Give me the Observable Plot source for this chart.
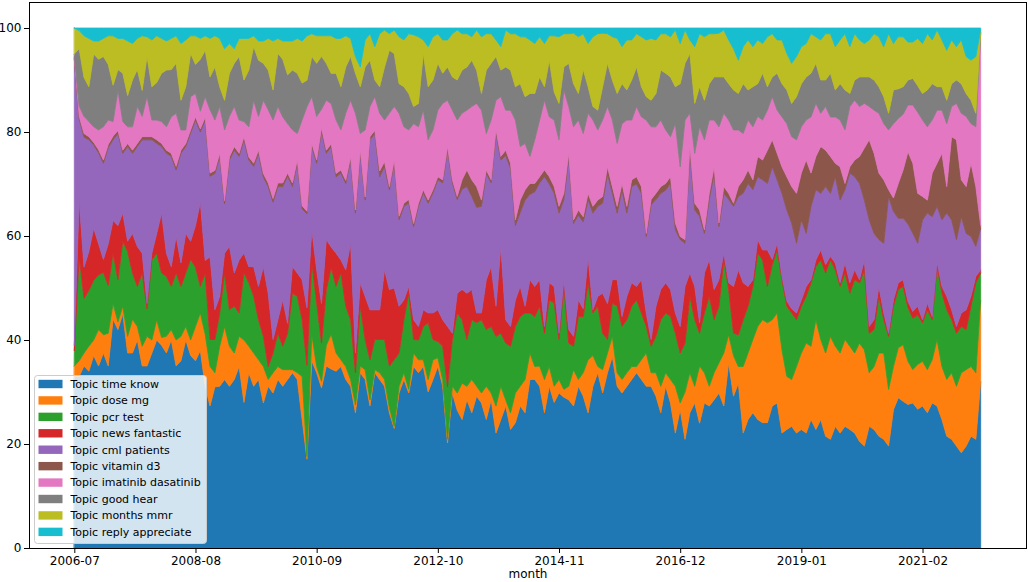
<!DOCTYPE html>
<html>
<head>
<meta charset="utf-8">
<script src="https://cdn.jsdelivr.net/npm/d3@7"></script>
<script src="https://cdn.jsdelivr.net/npm/@observablehq/plot@0.6"></script>
<style>
  html, body { margin: 0; padding: 0; background: white; }
  svg { display: block; }
</style>
</head>
<body>
<div id="chart"></div>
<script>
// ---- categories ----
const topics = [
  "Topic time know", "Topic dose mg", "Topic pcr test", "Topic news fantastic",
  "Topic cml patients", "Topic vitamin d3", "Topic imatinib dasatinib",
  "Topic good hear", "Topic months mmr", "Topic reply appreciate"
];
const colors = ["#1f77b4", "#ff7f0e", "#2ca02c", "#d62728", "#9467bd",
                "#8c564b", "#e377c2", "#7f7f7f", "#bcbd22", "#17becf"];
// months 2006-07 .. 2022-02
const months = d3.utcMonths(new Date(Date.UTC(2006, 6, 1)), new Date(Date.UTC(2022, 2, 1)));
const tickLabels = ["2006-07", "2008-08", "2010-09", "2012-10", "2014-11", "2016-12", "2019-01", "2021-02"];

// ---- series values (share of posts, %) ----
const timeKnow = [
33,33,35,34,37,35,37.5,35,44,42,
45,37.5,37.5,40,35,35,37.5,40,39,37.5,
40,35,36,40,37,36,38,31,27.3,31,
31.1,32.4,31.1,32.4,34.9,28,33.7,31.1,32.4,27.9,
31.1,29.8,32.4,31.1,32.4,33.7,32.4,24.7,17,36,
33.7,31.1,35,34.3,34,34.9,32.4,31.1,26,33.7,
32.4,27.3,33.7,32.4,31.1,26,23,29.8,32.4,29.8,
34.9,33.7,34.9,30,32.4,34.9,31.1,20.2,29.8,26.5,
24.7,28.5,26,29.2,27.9,24.7,28.5,22.1,24.7,27.3,
22.8,24.1,27.3,26,32.4,32.4,31.1,26,31.1,28,
29.8,29,28.5,27.3,31.1,29.2,26,31.1,33.7,29.8,
33.7,36.8,31.1,29.8,31.1,32.4,33.7,32.4,31.1,31.1,
29.2,26,31.1,27.9,22.1,26.6,20.9,26,27.9,24,
27.9,27.3,28.5,29.8,27.3,35.6,29.2,31.7,22.1,24.7,
26,24.7,24.1,24.1,27.3,27.9,22.1,22.8,23.4,22.1,
22.8,22.1,24.7,22.8,24.7,21.5,20.9,23.4,22.1,23.4,
22.8,22.1,20.5,19.6,23.4,22.8,21.5,20.9,19.6,26.6,
28.9,28.2,27.6,27.9,26.7,27.3,26,27.9,27.3,24.7,
21.5,20.9,19.6,18.3,19.6,21.5,20.9,32
];
const doseMg = [
2,3,2.5,4.8,3,7,3.5,6.3,3,1.5,
1.5,3.2,6.5,2.6,3.8,5.7,2.5,3.9,1.5,3.2,
2,5,4.7,2.6,3,6.6,7.2,10,7.6,2.7,
7.7,10.2,7.7,5.1,5.8,12,5.1,6.4,3.8,7,
1.3,3.9,2.5,3.2,1.9,0.6,1.3,8.3,0.5,5,
1.2,1.3,4,6.7,3.5,1.3,2.5,1.3,1.5,1.3,
1.9,1.2,0.6,1.3,1.3,1,0.4,1.3,1.3,0.7,
2.6,2.5,1.3,2.4,3.8,1.7,1.3,0.7,1.3,3.3,
7,2.6,6.4,1.9,1.9,6.4,1.3,5.2,6.4,1.2,
3.2,5.7,3.8,6.4,5.1,2.5,3.9,6.4,3.8,3.1,
2.6,1.5,2.6,7,1.3,4.5,10.2,5.9,1.2,4.5,
3.8,3.9,2.6,2.6,2.6,2.5,1.2,3.8,6.4,2.6,
4.5,5.1,2.6,4.5,9,1.3,9.1,7.7,3.2,11,
5.8,3.8,5.2,5.8,10.2,5.4,7.8,3.2,12.8,12.8,
14.1,17.9,19.8,19.2,16.6,17.3,16,10.2,9,12.8,
14.7,17.3,14.1,21.1,15.4,16,19.8,15.4,15.4,16.7,
16,15.4,18.9,18.5,10.3,12.1,16,16.6,10.9,8.3,
9.6,10.9,8.3,6.4,8.6,8.6,8.3,8.3,12.8,10.2,
10.9,12.8,11.5,15.4,14.7,13.4,12.8,15.7
];
const pcrTest = [
3,20,10.5,10.7,11.5,10.5,12,9.2,9.7,8.1,
12.5,16.3,8.9,7.7,14.1,5.3,15.4,12.8,12.4,11.5,
8.3,12.9,9.6,10.3,15.5,11.4,5.1,11.6,5.2,6.4,
6.4,10.3,7,9,4.5,12.9,12.2,10.9,7.7,5.8,
2.5,3.8,6.4,4.5,7,14.7,14.7,10.9,17.5,13.8,
12.2,7.4,10.7,12.8,12.8,16.7,11.6,11.5,6.2,11.5,
5.8,7.7,5.8,6.4,7.7,8,12.8,6.4,10.2,18.5,
2.6,3.8,6.4,10.9,3.9,3.1,6.4,10.1,9,15.4,
12.2,9,11.5,12.2,14.1,10.9,12.8,13.4,10.2,10.9,
12.8,12.8,13.4,12.8,7.7,9.6,11.5,8.9,12.8,16,
7.7,19.8,8.3,4.5,12.1,10.8,14.8,8.2,11.6,7,
2.6,6.4,12.8,10.2,10.2,11.6,12.8,9,5.1,5.1,
7,12.8,11.5,12.1,10.2,9.6,9.4,14.7,12.8,6.3,
11.5,17.3,10.2,10.9,17.9,8.7,4.3,6.1,9,9,
10.2,14.1,11.5,7,10.6,12.1,13.5,13.5,12.8,9,
9,9,12.2,10.2,15.3,15.4,14.7,14.7,12.8,12.8,
10.2,14.1,11.6,15.4,7.6,7.1,10.9,6.4,10.2,11.6,
11.2,11.2,10.3,9.9,9.5,7.4,11.5,7.7,14,14.1,
13.4,10.2,10.2,8.9,7.7,11.6,17.3,5.2
];
const newsFantastic = [
1,11,6,7.5,10,6,2.5,8,6.3,10.4,
5.4,2,7.6,7.7,3.8,1,1.3,3.8,11.5,4.5,
3.8,7,4.5,7.6,3.5,8,16.2,2.5,15.9,5.7,
3.2,3.8,12.2,6.4,10.2,3.8,3.1,5.7,6.4,13.4,
14.1,2.6,2.6,8.9,1.9,5.1,4.5,7.7,11,6.4,
6.4,7.7,9.6,3.9,6.4,2.5,7,14.7,3.8,4.5,
8.3,9.6,5.7,5.7,13.4,14.7,13.8,9,3.8,1.3,
3.8,2.6,3.2,1.9,5.1,6.1,5.1,11.6,1.2,3.8,
5.8,8.9,5.8,1.9,1.3,9.6,11.5,5.8,16.7,4.5,
3.8,5.1,5.8,1.3,6.4,5.8,5.1,1.3,3.3,3.2,
1.2,1.3,2.6,1.9,3.2,1.5,5,0.6,1.9,7.7,
6.9,4.5,5.1,1.9,4.5,4.5,2.6,6.4,2.6,1.3,
5.8,5.8,5.8,5.2,3.9,5.1,10.9,4.5,6.4,2,
7.7,7,5.8,5.1,1.3,1.3,9,12.5,7.1,3.8,
1.3,2.6,1.9,7,1,1.3,0.6,1,0.8,1.3,
1.2,1.9,0.6,1.3,1.9,1.6,0.7,1.3,0.7,1.9,
2,1.9,0.6,1.9,1.3,1.9,1.9,1.3,0.6,1.2,
1.3,1.3,1.2,1.3,1.7,0.6,1.3,0.6,0.9,1.3,
2.6,1.9,1.3,2.6,3.8,1.9,1.2,0.6
];
const cmlPatients = [
55,15.5,25,21.5,16,17.5,18.5,18.5,15.5,17.7,
11.5,18.2,15.4,19.2,21.8,31.5,21.8,17.3,12.8,19.2,
21.2,12.8,21.1,16.7,20.8,20.3,13.5,26.9,15.5,26.2,
26.9,9.5,16.6,23.6,19.9,21.8,20.5,19.3,25.6,17.2,
20.5,26.4,25.6,21.8,28.3,15.4,21.1,13.6,18,16,
20.5,33.5,16.6,19.2,14.7,16.7,16.6,16,26.9,24.9,
18.5,32.7,33.9,25.6,19.8,19.2,24,16.6,18,16,
17.9,23.1,22.5,21.1,23.1,25,26.3,34,28.9,18,
19.3,20.5,17.9,20.3,20.5,20.4,16.1,33.2,16.6,31.6,
30.4,14.3,14.2,20.4,16.4,18.2,18.6,28.8,19,17.9,
23.1,15.4,33,21.7,16.3,16.7,11,18.6,17.3,17.3,
25,16.6,12.8,24.3,16,18.5,19.7,16.6,14.7,25.9,
20.5,18.5,17.8,20.4,16,16.7,8.3,23.4,14.7,20.5,
7.6,11.6,22.3,10.2,11.5,16,15.4,14.1,17.2,19.8,
17.3,12.1,13.5,12.8,17.8,12.2,16,17.5,16.5,13.4,
15.4,10.2,14.1,13.5,10.9,15,12.1,16.6,15.9,14.1,
21.1,17.9,18.5,11.5,20.5,16.6,9,13.4,26.3,17,
12.4,11.8,14.9,15,12.1,19.2,17.3,19.2,10.7,12.8,
16,17.3,16.7,18.5,14.7,11.5,5.8,8
];
const vitaminD3 = [
0.3,0.5,0.7,0.6,0.5,0.6,0.6,0.6,0.7,0.6,
0.6,0.6,0.6,0.6,0.6,0.6,0.6,0.7,0.6,0.6,
0.6,0.7,0.6,0.6,0.6,0.6,0.6,0.6,0.6,0.6,
0.6,0.6,0.6,0.7,0.6,0.6,0.6,0.6,0.6,0.7,
0.7,0.7,0.7,0.7,0.6,0.7,0.6,0.6,0.5,0.6,
0.6,0.6,0.6,0.6,0.6,0.6,0.6,0.6,0.6,0.6,
0.6,0.6,0.6,1.1,1,0.6,0.6,0.7,0.6,0.7,
0.6,0.6,0.6,0.6,0.6,0.6,0.6,0.6,0.6,0.6,
1.8,3.2,3.2,4,1.2,0.7,0.6,0.7,0.7,1,
1,1.1,2.4,2,2.1,1.6,1.2,1.3,1.4,1.3,
1.3,1.2,0.9,0.7,1,1,1.2,1.3,1.2,1.3,
1.3,1.3,1.3,1.3,1.3,1.3,1.4,1.3,0.6,1,
1.2,1.3,1.3,1.3,1.3,0.6,0.7,0.9,1.3,1.2,
0.7,1.2,1.3,0.7,1.3,1.2,0.6,1.9,2.6,2.6,
1.9,3.9,3.8,6.4,5.2,5.1,5.1,6.4,7,9.6,
9,14.1,6.4,6.4,9,7,7.1,2.6,6.4,1.2,
1.2,3.2,5.2,10,15.4,15.4,12.8,12.2,1.3,2.6,
6.7,9.3,13.9,13.5,9.6,4.5,2.5,8.4,8.3,12.8,
5.1,16,19.2,7.1,9,14.1,11.5,0.5
];
const imatinibDasatinib = [
0.3,2,3.3,2.9,3,3.8,6.4,4.7,2.8,7.7,
5.5,3.2,4.5,7.1,3.9,7.7,3.2,3.8,4.2,4.5,
7,10.2,3.9,2.6,6.4,4.5,3.4,3.9,12.2,9.7,
9,13.6,7.8,7.7,6.4,2.9,5.8,12.1,6.5,14.1,
14.1,15.1,14.7,12.7,9.5,10.2,5.1,16.5,20,9,
8.4,3.6,9.6,7.7,10.3,7.7,12.9,10.9,18.6,3.2,
12.9,5.8,6.5,11.1,8,14.1,10.3,19.8,14.7,13.4,
19.2,14.7,15.3,11.6,11.5,12.8,14.7,8.9,13.4,14.7,
12.8,11.5,14.1,16,17.3,7,11.5,5.7,11.5,7.7,
10.2,19.2,10.3,8.9,5.2,8.4,10.9,13.4,11.5,12.8,
12.8,19.9,9,17.9,17.3,16,15.4,16.6,13.5,14.7,
11.6,12.8,12.1,11.5,16.6,11.5,13.5,13.4,21.8,14,
12.8,12.8,10.3,7.7,19.1,13.4,23,6.4,9.6,16,
17.3,14.1,9,18.5,14.1,14.1,14.1,10.9,8.9,9.6,
10.2,7.7,7.7,7.7,8.3,8.3,9.6,10.2,9.6,10.3,
8.9,7.7,10.8,10.2,6.4,8.4,7.6,8.9,9,10.3,
11.6,11.5,9.6,8.6,6.4,8.3,11.5,10.8,11.5,14.3,
12.5,10.7,9,11.2,15.6,14.7,14.1,10.2,10.2,8.3,
12.1,5.8,7,12.8,13.5,7.6,11.5,37
];
const goodHear = [
0.4,11,7.5,6.7,14,13.6,13.5,10.7,7,4,
9.3,6,9,7.1,5,7.7,6.4,7.2,9.3,10.9,
9.1,9.6,5.7,8.3,8.3,5.6,10,8.9,6.3,10.2,
3.8,5.7,8.3,8.3,12.2,8,10.9,10.3,10.8,7.1,
7.6,5.8,10.2,11.1,9.4,11.5,11.6,7.1,5.1,7.7,
10.2,10.3,7.1,5.8,9,8.3,8.9,8.4,7.7,9,
12.1,8.9,3.2,5.1,10.2,12.1,10.2,5.7,7.7,7,
3.3,4.5,10.9,10.2,9.6,9,5.8,6.4,6.4,7.7,
8.3,8.3,8.9,6.4,3.2,12.2,10.9,8.4,5.1,8.3,
7.7,6.4,12.1,9,12.1,8.9,8.3,2.6,10.9,5.4,
7,4.4,8.3,8.3,5.1,12.3,5.1,2.6,3.8,6.4,
8.3,7.7,9.6,7.7,5.8,7.7,7.6,5.8,4.5,5.1,
6.4,9.6,10.9,11.5,7.1,16,10.9,11.5,9.6,7.7,
7.6,7,8.3,9.6,7,7,7.7,7,9.6,5.8,
7.7,6.3,9,4.5,3.8,7.1,6.4,6.5,6.4,8.3,
8.3,8.3,8.4,7.7,6.4,5.1,8.4,5.2,7,7.7,
2.5,3.9,5.7,5.1,5.7,5.8,5.1,5.2,3.2,6.5,
5.7,5.3,4.8,5.1,5.1,5.1,7.1,7,4.5,4.5,
4.5,4.4,4.5,5.7,4.4,4.5,2.6,0.3
];
const monthsMmr = [
5,3.5,8,9.3,2.5,3.5,3.5,5.5,9.5,6,
6.7,10.5,7,6,10.5,3.8,9,9,6.7,5.6,
6,5.3,10.9,9,3.4,5.5,4,2.8,7.4,6,
9.3,9.9,5.7,2.8,3.5,8,6.1,2.1,3.7,4.3,
6.1,9.4,2.9,3.5,6.5,5.6,6.7,8.1,8.5,4.4,
5.3,4,5.3,7.2,6.7,9.3,6,3.5,3.2,3.8,
5.2,5.1,6.4,10.2,7.1,3.2,4.5,9,9,11.5,
13.8,12.8,2.6,7.7,8.3,5.7,6.4,5.2,8.3,9.6,
7,6.4,4.5,7.7,10.9,7,5.7,3.2,4.5,7.1,
7,10.2,9,11.5,10.3,9.6,7.7,8.3,4.7,10.8,
12.8,6.4,5.7,9.7,10.9,6.9,8.3,13.4,14.7,10.3,
5.7,8.3,10.6,7.1,9.6,7.7,6.4,9.6,10.9,11.9,
10.3,7,7.6,7.7,10.9,7.7,6.4,2.6,10.9,10.2,
12.2,9.6,8.3,8.4,9,8.4,7.9,6.4,7.1,9.6,
7.7,8.4,5.7,9.6,8.3,6.4,8.4,7,7.7,7.7,
7.1,6.4,7.6,5.1,7.7,8.9,7.6,8.3,8.4,10.8,
9,8.9,7.1,6.4,7.1,8.9,9.6,9.6,15.3,8.9,
10,9.6,7.3,7,9.1,9.6,10.8,8.4,10.9,9,
9.6,8.4,6.4,8.4,7.1,7.7,10.9,0.4
];
const replyAppreciate = [
0,0.5,1.5,2,2.5,2.5,2,1.5,1.5,2,
2,2.5,3,2,1.5,1.7,2.3,1.5,2,2.5,
2,1.5,3,2.3,1.5,1.5,2,1.5,2,1.5,
2,4,3,4,2,2,2,1.5,2.5,2.5,
2,2.5,2,2.5,2.5,2.5,2,2.5,1.5,1.1,
1.5,1.5,1.5,1.5,2,2,1.5,2,5.5,7.5,
2.3,1.1,3.6,1.1,0.4,1.1,0.4,1.7,2.3,1.1,
1.3,1.7,2.3,3.6,1.7,1.1,2.3,2.3,1.1,0.4,
1.1,1.1,1.7,0.4,1.7,1.1,1.1,2.3,3.6,0.4,
1.1,1.1,1.7,1.7,2.3,3,1.7,3,1.5,1.5,
1.7,1.1,1.1,1,1.7,1.1,3,1.7,1.1,1,
1.1,1.7,2,3.6,2.3,2.3,1.1,1.7,2.3,2,
2.3,1.1,1.1,1.7,0.4,3,0.4,2.3,3.6,1.1,
1.7,1.1,1.1,1,0.4,2.3,4,6.2,3.6,2.3,
3.6,2.3,3,1.7,1.1,2.3,2.3,4.9,6.8,5.5,
3.6,3,1.1,1.7,2.3,1.1,1.1,3.6,2.3,1.1,
3.6,1.1,2.3,3,2.3,1.1,1.7,3.6,1.1,3,
1.7,1.7,2.7,2.7,2,3,1.1,2.3,0.4,2.3,
4.3,2.3,3.6,2.3,5.5,6.2,5.5,0.3
];

const series = [timeKnow, doseMg, pcrTest, newsFantastic, cmlPatients,
                vitaminD3, imatinibDasatinib, goodHear, monthsMmr, replyAppreciate];
const n = months.length;
series.forEach((s, k) => { if (s.length !== n) throw new Error(topics[k] + " has " + s.length + " values, expected " + n); });

// long table, each month normalised to 100 %
const table = [];
for (let i = 0; i < n; i++) {
  const total = d3.sum(series, s => s[i]);
  series.forEach((s, k) => table.push({i, month: months[i], topic: topics[k], value: s[i] / total * 100}));
}

const fmt = d3.utcFormat("%Y-%m");
const tickIdx = tickLabels.map(l => months.findIndex(m => fmt(m) === l));

const chart = Plot.plot({
  width: 1029,
  height: 582,
  marginLeft: 29,
  marginRight: 3,
  marginTop: 2,
  marginBottom: 34,
  style: {fontFamily: "'DejaVu Sans', sans-serif", fontSize: "12px", background: "white", color: "black", overflow: "visible"},
  x: {domain: [-0.05 * (n - 1), (n - 1) * 1.05]},
  y: {domain: [0, 105]},
  color: {domain: topics, range: colors},
  marks: [
    Plot.areaY(table, {x: "i", y: "value", z: "topic", fill: "topic", stroke: "topic", strokeWidth: 0.8, order: topics}),
    Plot.frame({stroke: "black", strokeWidth: 1}),
    Plot.axisX({ticks: tickIdx, tickFormat: i => tickLabels[tickIdx.indexOf(i)], tickSize: 5, tickPadding: 3, label: null, fontSize: 12}),
    Plot.axisY({ticks: [0, 20, 40, 60, 80, 100], tickSize: 5, tickPadding: 3, label: null, fontSize: 12}),
    Plot.text(["month"], {frameAnchor: "bottom", dy: 29, fontSize: 12, fill: "black"})
  ]
});
document.getElementById("chart").appendChild(chart);

// legend (matplotlib-style, inside the axes, lower left)
const svg = d3.select(chart);
const lg = svg.append("g")
  .attr("font-family", "'DejaVu Sans', sans-serif")
  .attr("font-size", 11)
  .attr("text-anchor", "start");
lg.append("rect")
  .attr("x", 34.5).attr("y", 375.5).attr("width", 172).attr("height", 168).attr("rx", 3)
  .attr("fill", "white").attr("fill-opacity", 0.8)
  .attr("stroke", "#cccccc").attr("stroke-width", 1);
topics.forEach((t, k) => {
  const cy = 384 + 16.43 * k;
  lg.append("rect").attr("x", 38.5).attr("y", cy - 4.2).attr("width", 24).attr("height", 8.4).attr("fill", colors[k]);
  lg.append("text").attr("x", 70.5).attr("y", cy).attr("dy", "0.35em")
    .attr("text-anchor", "start").attr("fill", "#000").text(t);
});
</script>
</body>
</html>
